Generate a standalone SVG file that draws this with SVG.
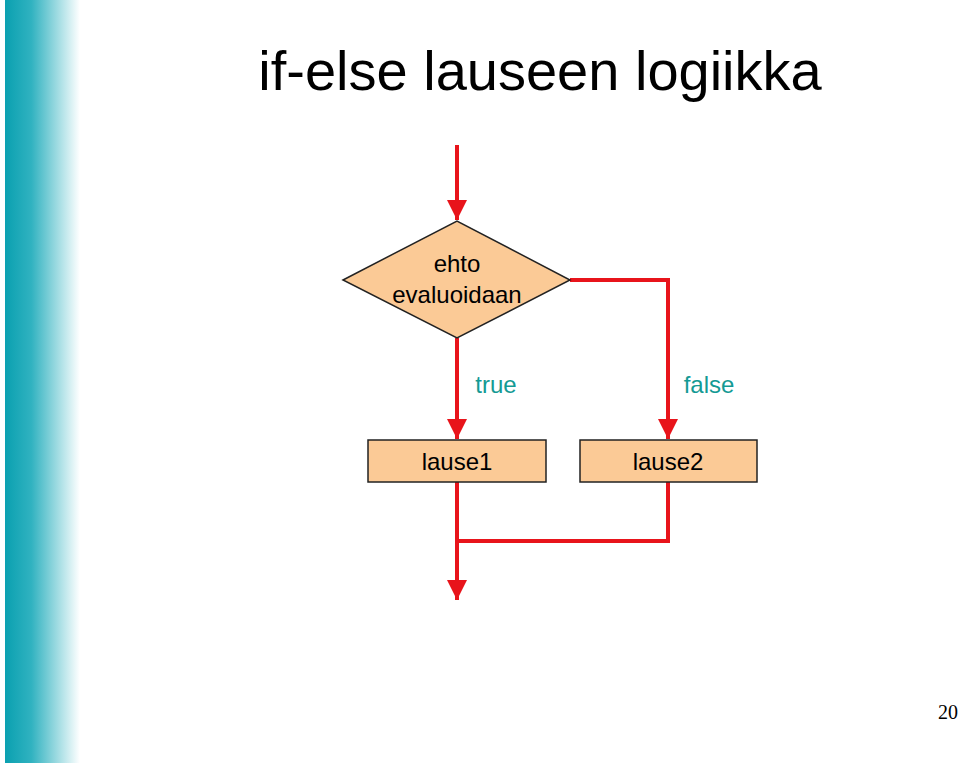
<svg xmlns="http://www.w3.org/2000/svg" width="960" height="763" viewBox="0 0 960 763">
<defs>
<linearGradient id="g" x1="0" x2="1" y1="0" y2="0"><stop offset="0" stop-color="#0aa0b0"/><stop offset="0.35" stop-color="#30b2c0"/><stop offset="1" stop-color="#fff"/></linearGradient>
<marker id="a" viewBox="0 0 10 10" refX="10" refY="5" markerWidth="5" markerHeight="5" markerUnits="strokeWidth" orient="auto"><path d="M0,0L10,5L0,10z" fill="#e8141b"/></marker>
<style>.n{fill:#fbca96;stroke:#222;stroke-width:1.5}.t{font-family:"Liberation Sans",Arial,sans-serif;font-size:24px;text-anchor:middle}.c{fill:none;stroke:#e8141b;stroke-width:4}.l{fill:#149a94}</style>
</defs>
<rect width="960" height="763" fill="#fff"/>
<rect x="5" y="0" width="75" height="763" fill="url(#g)"/>
<text x="540" y="90" font-family="Liberation Sans,Arial,sans-serif" font-size="56" text-anchor="middle">if-else lauseen logiikka</text>
<g id="connectors">
<path class="c" d="M457,145V220" marker-end="url(#a)"/>
<path class="c" d="M457,338V439" marker-end="url(#a)"/>
<path class="c" d="M570,280H668V439" marker-end="url(#a)"/>
<path class="c" d="M457,482V600" marker-end="url(#a)"/>
<path class="c" d="M668,482V541H459"/>
</g>
<g id="decision"><path class="n" d="M343,280L457,221L570,280L457,338Z"/><text class="t" x="457" y="272">ehto</text><text class="t" x="457" y="303">evaluoidaan</text></g>
<g id="lause1"><rect class="n" x="368" y="440" width="178" height="42"/><text class="t" x="457" y="470">lause1</text></g>
<g id="lause2"><rect class="n" x="580" y="440" width="177" height="42"/><text class="t" x="668" y="470">lause2</text></g>
<text class="t l" x="496" y="393">true</text>
<text class="t l" x="709" y="393">false</text>
<text x="948" y="719" font-family="Liberation Serif,serif" font-size="20" text-anchor="middle">20</text>
</svg>
